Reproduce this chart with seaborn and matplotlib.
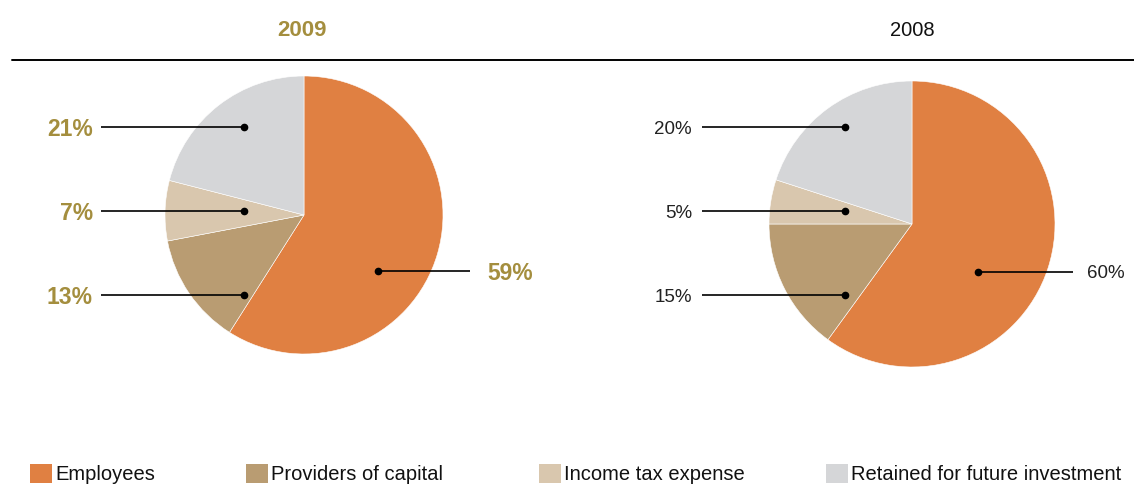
import matplotlib
matplotlib.use("Agg")
import matplotlib.pyplot as plt
from matplotlib.patches import Patch
import seaborn as sns

# ---- data ----
categories = ["Employees", "Providers of capital", "Income tax expense",
              "Retained for future investment"]
values_2009 = [59, 13, 7, 21]
values_2008 = [60, 15, 5, 20]
labels_2009 = ["59%", "13%", "7%", "21%"]
labels_2008 = ["60%", "15%", "5%", "20%"]
years = ["2009", "2008"]

colors = ["#e08042", "#b99c72", "#d9c7ae", "#d5d6d8"]
gold = "#a48e3e"

sns.set_theme(style="white")
plt.rcParams["font.family"] = ["Liberation Sans", "DejaVu Sans"]

W, H = 1134, 497
fig = plt.figure(figsize=(W / 100, H / 100), dpi=100)
ax = fig.add_axes([0, 0, 1, 1])

def Y(y):
    return H - y

# pie layout: (center x, center y, radius)
pies = [
    dict(vals=values_2009, labels=labels_2009, cx=304, cy=215, r=139,
         bold=True, color=gold, fs=16.5,
         # (dot x, dot y, line end x, label x, ha) for each category
         ann=[(378, 271, 470, 487, "left"),
              (244, 295, 101, 93, "right"),
              (244, 211, 101, 93, "right"),
              (244, 127, 101, 93, "right")]),
    dict(vals=values_2008, labels=labels_2008, cx=912, cy=224, r=143,
         bold=False, color="#222222", fs=13.5,
         ann=[(978, 272, 1073, 1087, "left"),
              (845, 295, 702, 692, "right"),
              (845, 211, 702, 692, "right"),
              (845, 127, 702, 692, "right")]),
]

for p in pies:
    ax.pie(p["vals"], colors=colors, startangle=90, counterclock=False,
           center=(p["cx"], Y(p["cy"])), radius=p["r"],
           wedgeprops=dict(edgecolor="white", linewidth=0.4))
    for lab, (dx, dy, lx, tx, ha) in zip(p["labels"], p["ann"]):
        ax.plot([dx, lx], [Y(dy), Y(dy)], color="black", lw=1.2,
                solid_capstyle="butt", zorder=5)
        ax.plot([dx], [Y(dy)], "o", color="black", ms=4.5, zorder=6)
        ax.text(tx, Y(dy), lab, ha=ha, va="center_baseline", fontsize=p["fs"],
                fontweight="bold" if p["bold"] else "normal",
                color=p["color"])

# titles
ax.text(302, Y(28), years[0], ha="center", va="center_baseline", fontsize=16,
        fontweight="bold", color=gold)
ax.text(912, Y(28), years[1], ha="center", va="center_baseline", fontsize=14.5,
        color="#111111")
# rule
ax.plot([12, W], [Y(60), Y(60)], color="black", lw=1.4)

ax.set_xlim(0, W)
ax.set_ylim(0, H)
ax.set_aspect("equal")
ax.axis("off")

# legend entries, placed individually
leg_x = [30, 246, 539, 826]
for cat, col, x in zip(categories, colors, leg_x):
    leg = fig.legend(handles=[Patch(facecolor=col, edgecolor="none")],
                     labels=[cat], loc="center left",
                     bbox_to_anchor=(x / W, Y(474) / H), frameon=False,
                     fontsize=14.5, handlelength=1.1, handleheight=1.05,
                     handletextpad=0.15, borderpad=0, borderaxespad=0)
    for t in leg.get_texts():
        t.set_color("#111111")

fig.savefig("out.png", dpi=100)
